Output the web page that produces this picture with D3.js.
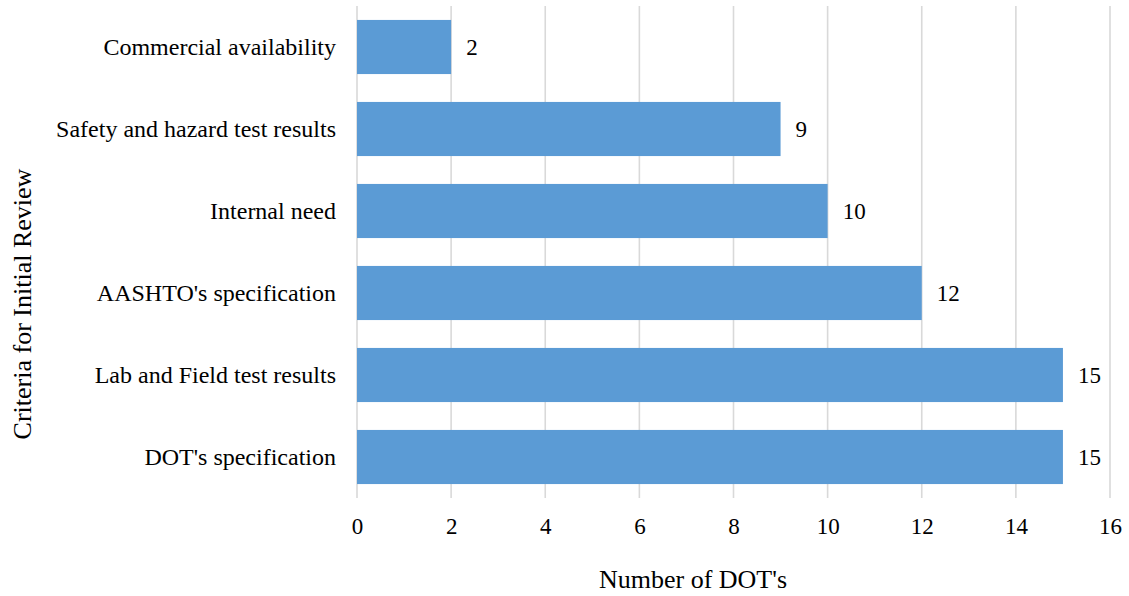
<!DOCTYPE html>
<html>
<head>
<meta charset="utf-8">
<script src="https://cdn.jsdelivr.net/npm/d3@7"></script>
<style>
  body { margin: 0; background: #fff; }
  text { font-family: "Liberation Serif", "Times New Roman", serif; fill: #000; }
</style>
</head>
<body>
<svg id="chart" width="1129" height="596"></svg>
<script>
// criteria, top to bottom
var categories = ["Commercial availability", "Safety and hazard test results", "Internal need",
  "AASHTO's specification", "Lab and Field test results", "DOT's specification"];
var counts = [2, 9, 10, 12, 15, 15];
var xTicks = [0, 2, 4, 6, 8, 10, 12, 14, 16];

var svg = d3.select("#chart"),
  MARGINS = { top: 6, right: 19, bottom: 98, left: 357 },
  WIDTH = 1129,
  HEIGHT = 596;

var xScale = d3.scaleLinear()
  .domain([0, 16])
  .range([MARGINS.left, WIDTH - MARGINS.right]);

var yScale = d3.scaleBand()
  .domain(categories)
  .range([MARGINS.top, HEIGHT - MARGINS.bottom])
  .paddingInner(0.34)
  .paddingOuter(0.17);

// vertical gridlines
svg.append("g")
  .selectAll("line")
  .data(xTicks)
  .enter().append("line")
  .attr("x1", function (d) { return xScale(d); })
  .attr("x2", function (d) { return xScale(d); })
  .attr("y1", MARGINS.top)
  .attr("y2", HEIGHT - MARGINS.bottom)
  .style("stroke", "#d9d9d9")
  .style("stroke-width", 1.6);

// x axis labels (no line, no ticks)
var xAxis = d3.axisBottom(xScale).tickValues(xTicks).tickSize(0).tickPadding(20);
var gx = svg.append("g")
  .attr("transform", "translate(0," + (HEIGHT - MARGINS.bottom) + ")")
  .call(xAxis);
gx.select(".domain").remove();
gx.selectAll("text")
  .style("font-family", "'Liberation Serif', serif")
  .style("font-size", "23px")
  .style("fill", "#000");

// y axis labels
var yAxis = d3.axisLeft(yScale).tickSize(0).tickPadding(21);
var gy = svg.append("g")
  .attr("transform", "translate(" + MARGINS.left + ",0)")
  .call(yAxis);
gy.select(".domain").remove();
gy.selectAll("text")
  .style("font-family", "'Liberation Serif', serif")
  .style("font-size", "24px")
  .style("fill", "#000");

// bars
svg.append("g")
  .selectAll("rect")
  .data(counts)
  .enter().append("rect")
  .attr("x", xScale(0))
  .attr("y", function (d, i) { return yScale(categories[i]); })
  .attr("width", function (d) { return xScale(d) - xScale(0); })
  .attr("height", yScale.bandwidth())
  .style("fill", "#5b9bd5");

// value labels
svg.append("g")
  .selectAll("text")
  .data(counts)
  .enter().append("text")
  .attr("x", function (d) { return xScale(d) + 15; })
  .attr("y", function (d, i) { return yScale(categories[i]) + yScale.bandwidth() / 2; })
  .attr("dy", "0.35em")
  .style("font-size", "23px")
  .text(function (d) { return d; });

// axis titles
svg.append("text")
  .attr("x", 693)
  .attr("y", 588)
  .style("text-anchor", "middle")
  .style("font-size", "26px")
  .text("Number of DOT's");

svg.append("text")
  .attr("transform", "translate(31," + 304 + ") rotate(-90)")
  .style("text-anchor", "middle")
  .style("font-size", "26px")
  .text("Criteria for Initial Review");
</script>
</body>
</html>
